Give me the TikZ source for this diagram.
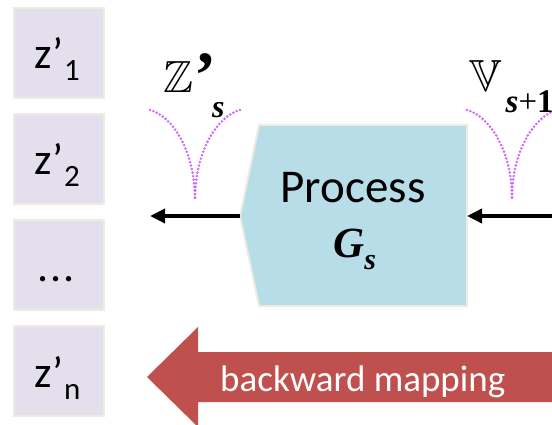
\documentclass[tikz,border=0pt]{standalone}
\usepackage{fontspec}
\setmainfont{Carlito}
\newfontfamily\tms{Liberation Serif}
\usetikzlibrary{arrows.meta,calc}

\definecolor{cellfill}{HTML}{E4DFEC}
\definecolor{rimline}{HTML}{EEECE1}
\definecolor{procfill}{HTML}{B7DDE8}
\definecolor{mapred}{HTML}{C0504D}
\definecolor{dotviolet}{RGB}{204,102,255}

% font size helper (pt = px here)
\newcommand{\pxsize}[1]{\fontsize{#1}{#1}\selectfont}
% blackboard letters from msbm at display size
\font\bbfont=msbm10 at 45pt

\begin{document}
\begin{tikzpicture}[x=1pt,y=-1pt,
  cell/.style={draw=rimline, line width=2pt, fill=cellfill,
    minimum size=90pt, inner sep=0pt},
  celltext/.style={anchor=base west, inner sep=0pt, font=\pxsize{44}},
  flow/.style={line width=3.5pt, -{Triangle[length=15pt,width=14pt]}},
  guide/.style={draw=dotviolet, line width=2.8pt, line cap=round,
    dash pattern=on 0pt off 3.6pt},
  plain/.style={inner sep=0pt},
]
\useasboundingbox (0,0) rectangle (552,425);

% column of latent cells
\node[cell] (c1) at (59,53) {};
\node[cell] (c2) at (59,159) {};
\node[cell] (c3) at (59,265) {};
\node[cell] (c4) at (59,371) {};

\node[celltext] (t1) at ($(c1.north)+(-25,62)$) {z’\kern1pt\raisebox{-12pt}{\pxsize{31}1}};
\node[celltext] (t2) at ($(c2.north)+(-25,62)$) {z’\kern1pt\raisebox{-12pt}{\pxsize{31}2}};
\node[celltext, anchor=base] (t3) at ($(c3.north)+(-3,62)$) {.\kern2pt.\kern2pt.};
\node[celltext] (t4) at ($(c4.north)+(-25,62)$) {z’\kern1pt\raisebox{-12pt}{\pxsize{31}n}};

% process block with pointed left side
\coordinate (pl) at (240,216);
\coordinate (pr) at (467,216);
\coordinate (ptl) at (259,125);
\coordinate (ptr) at (467,125);
\coordinate (pbr) at (467,306);
\coordinate (pbl) at (259,306);
\draw[draw=rimline, line width=2pt, fill=procfill]
  (ptl) -- (ptr) -- (pbr) -- (pbl) -- (pl) -- cycle;
\node[plain, anchor=base, font=\pxsize{47}] (ptext) at (353,203) {Process};
\node[plain, anchor=base west] (gtext) at (333,257)
  {\tms\bfseries\itshape\pxsize{43}G\raisebox{-13pt}{\pxsize{30}s}};

% flow arrows
\coordinate (zout) at (150,216);
\coordinate (vin) at (560,216);
\draw[flow] (pl) -- (zout);
\draw[flow] (vin) -- (pr);

% dotted funnels
\coordinate (zc) at (195,200);
\coordinate (vc) at (512,198);
\draw[guide] (150,110) .. controls (172,116) and (195,150) .. (zc);
\draw[guide] (240,110) .. controls (218,116) and (195,150) .. (zc);
\draw[guide] (467,110) .. controls (489,116) and (512,150) .. (vc);
\draw[guide] (557,110) .. controls (535,116) and (512,150) .. (vc);

% set labels
\node[plain, anchor=base west] (zlab) at (163,93)
  {{\bbfont Z}\kern1pt\raisebox{-5pt}{\tms\bfseries\pxsize{66}’}\kern-4pt\raisebox{-25pt}{\tms\bfseries\itshape\pxsize{32}s}};
\node[plain, anchor=base west] (vlab) at (469,92)
  {{\bbfont V}\kern4pt\raisebox{-21pt}{\tms\pxsize{33}{\bfseries\itshape s}+{\bfseries 1}}};

% backward mapping arrow
\fill[mapred] (147,377) -- (198,327) -- (198,352) -- (560,352)
  -- (560,402) -- (198,402) -- (198,427) -- cycle;
\node[plain, anchor=base west, text=white, font=\pxsize{37}] (btext) at (220,391) {backward mapping};
\end{tikzpicture}
\end{document}
